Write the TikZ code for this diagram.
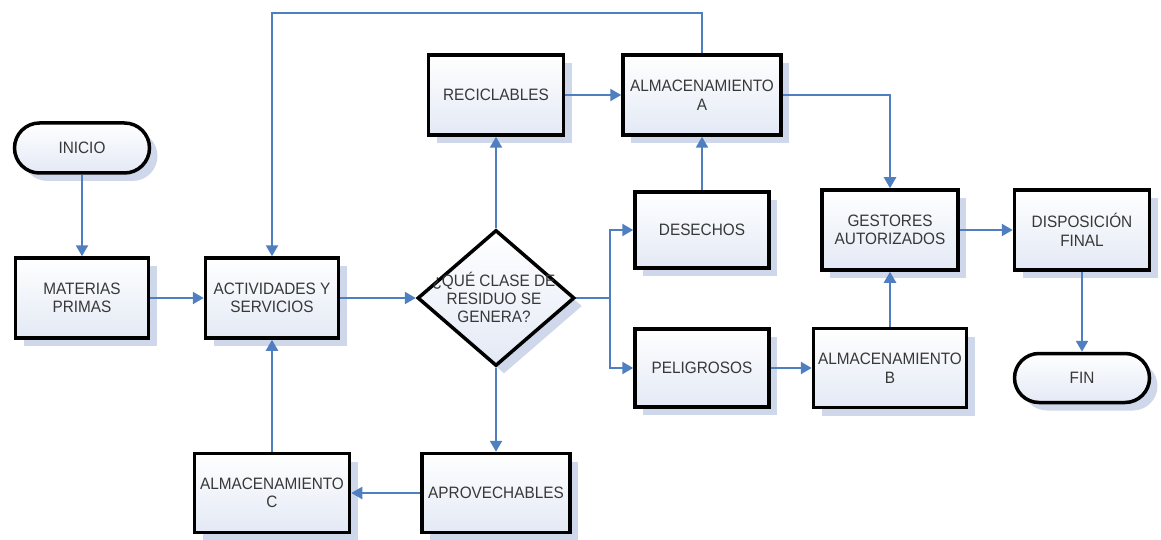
\documentclass[tikz,border=0pt]{standalone}
\usepackage{fontspec}
\setmainfont{Liberation Sans}[FakeStretch=0.93]
\usetikzlibrary{shapes.geometric,shapes.misc,shadows,arrows.meta,calc}

\definecolor{flowblue}{HTML}{4F7FC0}
\definecolor{boxfillbot}{HTML}{E3E9F5}
\definecolor{shadowcol}{HTML}{CFD8EA}
\definecolor{textgray}{HTML}{383838}

\tikzset{
  basebox/.style={draw=black, line width=3.5pt, top color=white, bottom color=boxfillbot,
    drop shadow={shadow xshift=8pt, shadow yshift=-8pt, fill=shadowcol, opacity=1},
    text=textgray, align=center, inner sep=0pt,
    font=\fontsize{16.5}{18.5}\selectfont},
  procbox/.style={basebox, rectangle},
  termbox/.style={basebox, rounded rectangle},
  decision/.style={basebox, diamond},
  qlabel/.style={text=textgray, align=center, inner sep=0pt, font=\fontsize{16.5}{18}\selectfont},
  arr/.style={draw=flowblue, line width=2.3pt, -{Triangle[length=11pt,width=12pt]}},
  plain/.style={draw=flowblue, line width=2.3pt},
}

\begin{document}
\begin{tikzpicture}[x=1pt, y=-1pt]
  \useasboundingbox (0,0) rectangle (1161,540);

  % terminals
  \node[termbox, minimum width=135pt, minimum height=50pt] (ini) at (82,148) {INICIO};
  \node[termbox, minimum width=135pt, minimum height=49pt] (fin) at (1082,378) {FIN};

  % process boxes
  \node[procbox, minimum width=133pt, minimum height=80pt] (mat)  at (82,298)  {MATERIAS\\PRIMAS};
  \node[procbox, minimum width=133pt, minimum height=80pt] (act)  at (272,298) {ACTIVIDADES Y\\SERVICIOS};
  \node[procbox, minimum width=135pt, minimum height=80pt] (rec)  at (496,95)  {RECICLABLES};
  \node[procbox, minimum width=158pt, minimum height=80pt] (almA) at (702,95)  {ALMACENAMIENTO\\A};
  \node[procbox, minimum width=134pt, minimum height=76pt] (des)  at (702,230) {DESECHOS};
  \node[procbox, minimum width=134pt, minimum height=78pt] (pel)  at (702,368) {PELIGROSOS};
  \node[procbox, minimum width=148pt, minimum height=79pt] (apr)  at (496,493) {APROVECHABLES};
  \node[procbox, minimum width=155pt, minimum height=79pt] (almC) at (272,493) {ALMACENAMIENTO\\C};
  \node[procbox, minimum width=153pt, minimum height=79pt] (almB) at (890,368) {ALMACENAMIENTO\\B};
  \node[procbox, minimum width=136pt, minimum height=80pt] (ges)  at (890,230) {GESTORES\\AUTORIZADOS};
  \node[procbox, minimum width=135pt, minimum height=80pt] (dis)  at (1082,230) {DISPOSICIÓN\\FINAL};

  % decision
  \node[decision, minimum width=157pt, minimum height=136pt] (q) at (496,298) {};
  \node[qlabel] (qtext) at (494,297) {¿QUÉ CLASE DE\\RESIDUO SE\\GENERA?};

  % helper points for routed connectors
  \coordinate (top) at (0,13);
  \coordinate (split) at (610,298);

  % connectors
  \draw[arr] (ini.south) -- (mat.north);
  \draw[arr] (mat.east) -- (act.west);
  \draw[arr] (act.east) -- (q.west);
  \draw[arr] (q.north) -- (rec.south);
  \draw[arr] (q.south) -- (apr.north);
  \draw[arr] (rec.east) -- (almA.west);
  \draw[arr] (des.north) -- (almA.south);
  \draw[arr] (almA.north) -- (almA.north |- top) -| (act.north);
  \draw[arr] (almA.east) -| (ges.north);
  \draw[plain] (q.east) -- (split);
  \draw[arr] (split) |- (des.west);
  \draw[arr] (split) |- (pel.west);
  \draw[arr] (apr.west) -- (almC.east);
  \draw[arr] (almC.north) -- (act.south);
  \draw[arr] (pel.east) -- (almB.west);
  \draw[arr] (almB.north) -- (ges.south);
  \draw[arr] (ges.east) -- (dis.west);
  \draw[arr] (dis.south) -- (fin.north);
\end{tikzpicture}
\end{document}
